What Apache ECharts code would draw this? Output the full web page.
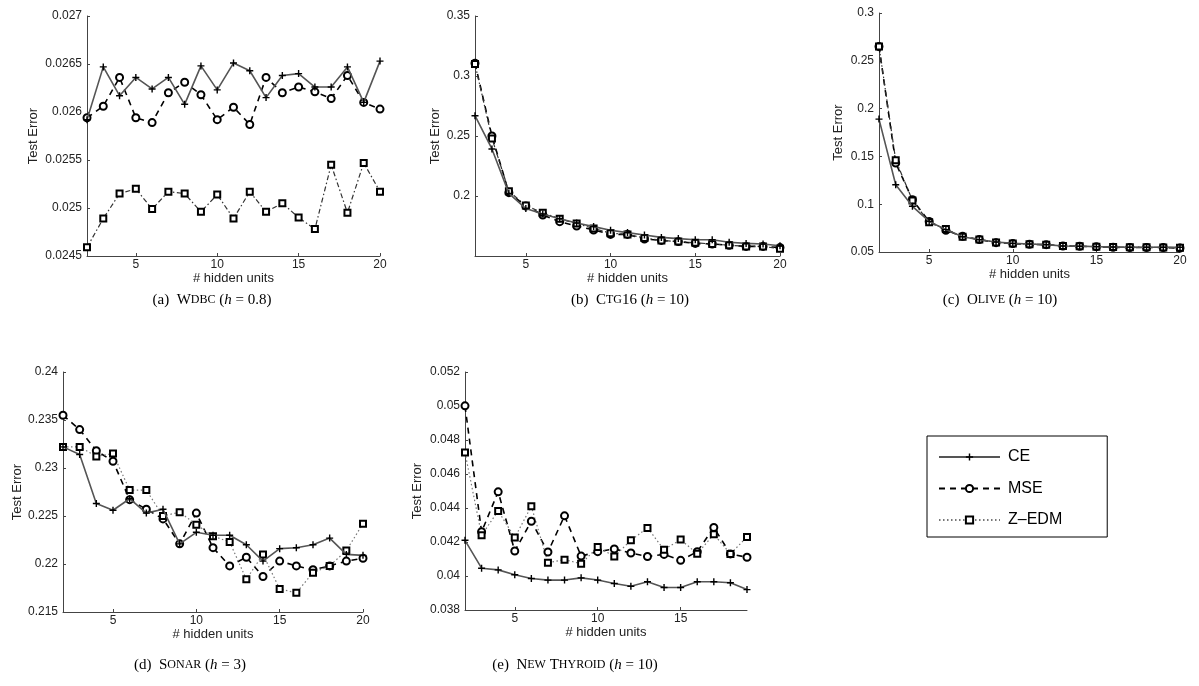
<!DOCTYPE html>
<html>
<head>
<meta charset="utf-8">
<script src="https://cdn.jsdelivr.net/npm/echarts@6/dist/echarts.min.js"></script>
<style>
html, body { margin: 0; padding: 0; background: #fff; }
#main { width: 1199px; height: 686px; }
</style>
</head>
<body>
<div id="main"></div>
<script>
// hidden units on the x axis
var units = [2, 3, 4, 5, 6, 7, 8, 9, 10, 11, 12, 13, 14, 15, 16, 17, 18, 19, 20];
var unitsThyroid = [2, 3, 4, 5, 6, 7, 8, 9, 10, 11, 12, 13, 14, 15, 16, 17, 18, 19];

// (a) WDBC
var wdbcCE  = [0.02592, 0.02647, 0.02617, 0.02636, 0.02624, 0.02636, 0.02608, 0.02648, 0.02623, 0.02651, 0.02643, 0.02615, 0.02638, 0.0264, 0.02626, 0.02626, 0.02647, 0.0261, 0.02653];
var wdbcMSE = [0.02594, 0.02606, 0.02636, 0.02594, 0.02589, 0.0262, 0.02631, 0.02618, 0.02592, 0.02605, 0.02587, 0.02636, 0.0262, 0.02626, 0.02621, 0.02614, 0.02638, 0.0261, 0.02603];
var wdbcZ   = [0.02459, 0.02489, 0.02515, 0.0252, 0.02499, 0.02517, 0.02515, 0.02496, 0.02514, 0.02489, 0.02517, 0.02496, 0.02505, 0.0249, 0.02478, 0.02545, 0.02495, 0.02547, 0.02517];

// (b) CTG16
var ctgCE  = [0.2669, 0.2392, 0.2022, 0.1895, 0.185, 0.181, 0.1775, 0.1745, 0.1715, 0.1695, 0.1675, 0.1655, 0.1645, 0.1635, 0.1635, 0.1615, 0.1605, 0.16, 0.1585];
var ctgMSE = [0.3106, 0.25, 0.2028, 0.1917, 0.1842, 0.1786, 0.175, 0.1717, 0.168, 0.168, 0.1642, 0.163, 0.162, 0.1605, 0.16, 0.159, 0.158, 0.158, 0.157];
var ctgZ   = [0.31, 0.248, 0.204, 0.192, 0.186, 0.181, 0.177, 0.173, 0.169, 0.168, 0.165, 0.163, 0.162, 0.161, 0.16, 0.159, 0.158, 0.158, 0.156];

// (c) Olive
var oliveCE  = [0.189, 0.1204, 0.0978, 0.082, 0.0734, 0.066, 0.0629, 0.0605, 0.059, 0.0584, 0.0577, 0.0563, 0.056, 0.0556, 0.0553, 0.055, 0.055, 0.055, 0.055];
var oliveMSE = [0.265, 0.143, 0.1047, 0.082, 0.0727, 0.0664, 0.063, 0.0598, 0.0588, 0.058, 0.0577, 0.0563, 0.056, 0.0556, 0.055, 0.0547, 0.0547, 0.0547, 0.0542];
var oliveZ   = [0.265, 0.146, 0.104, 0.081, 0.074, 0.066, 0.063, 0.06, 0.059, 0.058, 0.0577, 0.0563, 0.056, 0.0556, 0.0553, 0.055, 0.055, 0.0548, 0.0545];

// (d) Sonar
var sonarCE  = [0.2322, 0.2314, 0.2263, 0.2256, 0.2268, 0.2253, 0.2257, 0.2221, 0.2233, 0.223, 0.223, 0.222, 0.2203, 0.2216, 0.2217, 0.222, 0.2227, 0.221, 0.2209];
var sonarMSE = [0.2355, 0.234, 0.2318, 0.2307, 0.2267, 0.2257, 0.2247, 0.2221, 0.2253, 0.2217, 0.2198, 0.2207, 0.2187, 0.2203, 0.2198, 0.2194, 0.2198, 0.2203, 0.2206];
var sonarZ   = [0.2322, 0.2322, 0.2312, 0.2315, 0.2277, 0.2277, 0.225, 0.2254, 0.2241, 0.2229, 0.2223, 0.2184, 0.221, 0.2174, 0.217, 0.2191, 0.2198, 0.2214, 0.2242];

// (e) New Thyroid
var thyCE  = [0.0421, 0.04046, 0.04036, 0.04007, 0.03985, 0.03976, 0.03976, 0.03989, 0.03976, 0.03956, 0.0394, 0.03966, 0.03932, 0.03932, 0.03966, 0.03966, 0.0396, 0.0392];
var thyMSE = [0.05001, 0.0426, 0.04495, 0.04147, 0.04322, 0.04141, 0.04354, 0.04117, 0.04143, 0.04159, 0.04135, 0.04115, 0.04127, 0.04092, 0.04143, 0.04285, 0.0413, 0.0411];
var thyZ   = [0.04726, 0.0424, 0.04383, 0.04226, 0.0441, 0.04078, 0.04096, 0.04072, 0.0417, 0.04115, 0.0421, 0.04283, 0.04155, 0.04214, 0.04131, 0.04245, 0.0413, 0.0423];

// tick labels
var xTicks = [5, 10, 15, 20];
var xTicksThyroid = [5, 10, 15];
var wdbcTicks  = [0.0245, 0.025, 0.0255, 0.026, 0.0265, 0.027];
var ctgTicks   = [0.2, 0.25, 0.3, 0.35];
var oliveTicks = [0.05, 0.1, 0.15, 0.2, 0.25, 0.3];
var sonarTicks = [0.215, 0.22, 0.225, 0.23, 0.235, 0.24];
var thyTicks   = [0.038, 0.04, 0.042, 0.044, 0.046, 0.048, 0.05, 0.052];

var FONT = '"Liberation Sans", Arial, Helvetica, sans-serif';
var SERIF = '"Liberation Serif", "Times New Roman", serif';
var PLUS = 'path://M4,0H6V4H10V6H6V10H4V6H0V4H4Z';

// d first so the legend picks the dotted Z-EDM style
var panels = [
  { grid: { left: 63, top: 372, width: 300, height: 240 }, xs: units, xmax: 20, xt: xTicks,
    ymin: 0.215, ymax: 0.24, yt: sonarTicks, ce: sonarCE, mse: sonarMSE, z: sonarZ, gap: 39, dotted: true },
  { grid: { left: 465, top: 372, width: 282, height: 238 }, xs: unitsThyroid, xmax: 19, xt: xTicksThyroid,
    ymin: 0.038, ymax: 0.052, yt: thyTicks, ce: thyCE, mse: thyMSE, z: thyZ, gap: 41, dotted: true },
  { grid: { left: 87, top: 16, width: 293, height: 240 }, xs: units, xmax: 20, xt: xTicks,
    ymin: 0.0245, ymax: 0.027, yt: wdbcTicks, ce: wdbcCE, mse: wdbcMSE, z: wdbcZ, gap: 47 },
  { grid: { left: 475, top: 16, width: 305, height: 240 }, xs: units, xmax: 20, xt: xTicks,
    ymin: 0.15, ymax: 0.35, yt: ctgTicks, ce: ctgCE, mse: ctgMSE, z: ctgZ, gap: 33 },
  { grid: { left: 879, top: 13, width: 301, height: 239 }, xs: units, xmax: 20, xt: xTicks,
    ymin: 0.05, ymax: 0.3, yt: oliveTicks, ce: oliveCE, mse: oliveMSE, z: oliveZ, gap: 34 }
];

function pairs(xs, ys) {
  return xs.map(function (x, i) { return [x, ys[i]]; });
}

var grids = [], xAxes = [], yAxes = [], series = [];
panels.forEach(function (p, i) {
  grids.push(p.grid);
  xAxes.push({
    type: 'value', gridIndex: i, min: 2, max: p.xmax,
    name: '# hidden units', nameLocation: 'middle', nameGap: 14,
    nameTextStyle: { fontFamily: FONT, fontSize: 13, color: '#222' },
    splitLine: { show: false },
    axisLine: { lineStyle: { color: '#444', width: 1 } },
    axisTick: { inside: true, length: 3, customValues: p.xt, lineStyle: { color: '#444' } },
    axisLabel: { customValues: p.xt, fontFamily: FONT, fontSize: 12, color: '#222', margin: 3 }
  });
  yAxes.push({
    type: 'value', gridIndex: i, min: p.ymin, max: p.ymax,
    name: 'Test Error', nameLocation: 'middle', nameGap: p.gap,
    nameTextStyle: { fontFamily: FONT, fontSize: 13, color: '#222' },
    splitLine: { show: false },
    axisLine: { show: true, lineStyle: { color: '#444', width: 1 } },
    axisTick: { show: true, inside: true, length: 3, customValues: p.yt, lineStyle: { color: '#444' } },
    axisLabel: { customValues: p.yt, fontFamily: FONT, fontSize: 12, color: '#222', margin: 5 }
  });
  series.push({
    type: 'line', name: 'CE', xAxisIndex: i, yAxisIndex: i, data: pairs(p.xs, p.ce),
    symbol: PLUS, symbolSize: 7,
    lineStyle: { color: '#555', width: 1.6, type: 'solid' },
    itemStyle: { color: '#000' }, z: 3
  });
  series.push({
    type: 'line', name: 'MSE', xAxisIndex: i, yAxisIndex: i, data: pairs(p.xs, p.mse),
    symbol: 'emptyCircle', symbolSize: 7,
    lineStyle: { color: '#000', width: 1.6, type: [6, 5] },
    itemStyle: { color: '#000', borderColor: '#000', borderWidth: 1.5 }, z: 2
  });
  series.push({
    type: 'line', name: 'Z\u2013EDM', xAxisIndex: i, yAxisIndex: i, data: pairs(p.xs, p.z),
    symbol: 'emptyRect', symbolSize: 6,
    lineStyle: p.dotted ? { color: '#777', width: 1.2, type: [1.5, 2.5] }
                        : { color: '#333', width: 1.2, type: [5, 2.5, 1.5, 2.5] },
    itemStyle: { color: '#000', borderColor: '#000', borderWidth: 1.5 }, z: 2
  });
});

function caption(x, y, parts) {
  return {
    type: 'text', x: x, y: y,
    style: {
      text: parts, align: 'center', verticalAlign: 'middle', fill: '#000',
      rich: {
        n: { fontFamily: SERIF, fontSize: 15, color: '#000' },
        s: { fontFamily: SERIF, fontSize: 12, color: '#000' },
        i: { fontFamily: SERIF, fontSize: 15, fontStyle: 'italic', color: '#000' }
      }
    }
  };
}

var chart = echarts.init(document.getElementById('main'), null, { renderer: 'canvas' });
chart.setOption({
  animation: false,
  backgroundColor: '#fff',
  grid: grids,
  xAxis: xAxes,
  yAxis: yAxes,
  series: series,
  legend: {
    data: ['CE', 'MSE', 'Z\u2013EDM'],
    orient: 'vertical', left: 927, top: 436,
    padding: [13, 45, 9, 11],
    itemWidth: 61, itemHeight: 9, itemGap: 15.5,
    borderColor: '#000', borderWidth: 1,
    selectedMode: false,
    textStyle: { fontFamily: FONT, fontSize: 16, color: '#000', padding: [0, 0, 0, 3] }
  },
  graphic: [
    caption(212, 300, '{n|(a)  W}{s|DBC}{n| (}{i|h}{n| = 0.8)}'),
    caption(630, 300, '{n|(b)  C}{s|TG}{n|16 (}{i|h}{n| = 10)}'),
    caption(1000, 300, '{n|(c)  O}{s|LIVE}{n| (}{i|h}{n| = 10)}'),
    caption(190, 665, '{n|(d)  S}{s|ONAR}{n| (}{i|h}{n| = 3)}'),
    caption(575, 665, '{n|(e)  N}{s|EW}{n| T}{s|HYROID}{n| (}{i|h}{n| = 10)}')
  ]
});
</script>
</body>
</html>
